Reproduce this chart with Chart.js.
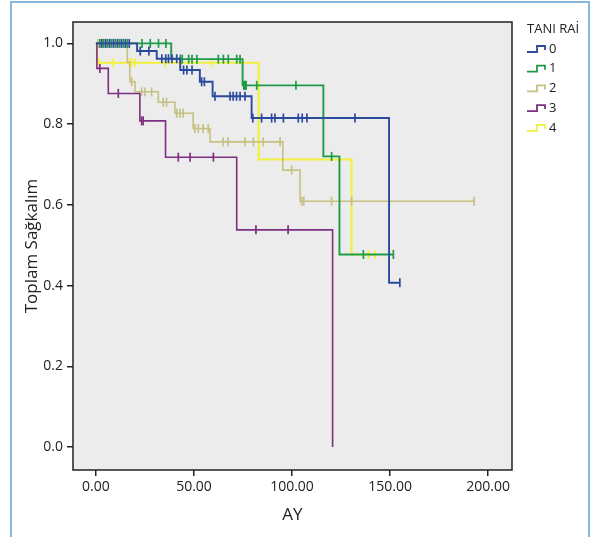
<!DOCTYPE html>
<html>
<head>
<meta charset="utf-8">
<script src="https://cdn.jsdelivr.net/npm/chart.js@4.4.1/dist/chart.umd.min.js"></script>
<style>
html, body { margin:0; padding:0; background:#fff; }
</style>
</head>
<body>
<canvas id="km" width="592" height="537"></canvas>
<script>
// Kaplan-Meier steps: time (AY) where the curve drops, and survival after the drop
const groupNames = ['0', '1', '2', '3', '4'];
const groupColors = ['#2b4a9e', '#1f9a48', '#c6c183', '#7d2f80', '#f2f03a'];

const times0 = [0, 21, 31, 43, 53, 59.5, 79.4, 149.5, 155];
const surv0  = [1.0, 0.981, 0.962, 0.934, 0.905, 0.869, 0.815, 0.407, 0.407];
const times1 = [0, 38.4, 74.8, 116, 124.2, 151.7];
const surv1  = [1.0, 0.961, 0.896, 0.72, 0.477, 0.477];
const times2 = [0, 16, 17.3, 19.9, 31.8, 40.3, 49.6, 58.2, 95.3, 104.1, 192.9];
const surv2  = [1.0, 0.953, 0.905, 0.880, 0.854, 0.827, 0.789, 0.756, 0.686, 0.609, 0.609];
const times3 = [0, 0.5, 6.3, 22.4, 35.5, 71.8, 120.7];
const surv3  = [1.0, 0.938, 0.876, 0.808, 0.718, 0.538, 0.0];
const times4 = [0, 0.5, 83, 130.4, 142.3];
const surv4  = [1.0, 0.952, 0.7125, 0.477, 0.477];

// censored cases
const cens0T = [3, 5, 7, 9, 11, 13, 15, 17, 22.6, 27, 33.6, 35.6, 37, 38.8, 41.2, 44.7, 46.4, 49, 53.9, 55.3,
  60.7, 68.4, 70, 71.7, 73.5, 76, 80, 84.5, 89.6, 91.3, 95.6, 103.2, 105.2, 107.6, 132.1, 155];
const cens0S = [1, 1, 1, 1, 1, 1, 1, 1, 0.981, 0.981, 0.962, 0.962, 0.962, 0.962, 0.962, 0.934, 0.934, 0.934, 0.905, 0.905,
  0.869, 0.869, 0.869, 0.869, 0.869, 0.869, 0.815, 0.815, 0.815, 0.815, 0.815, 0.815, 0.815, 0.815, 0.815, 0.407];
const cens1T = [2, 4, 6, 8, 10, 12, 14, 16, 23.5, 27.7, 31.9, 35.7, 43, 44, 47.3, 49, 51.5, 62.4, 65, 67.5, 71.8, 73.5,
  75.4, 75.8, 76.2, 76.6, 82, 102, 120.2, 136.4, 151.7];
const cens1S = [1, 1, 1, 1, 1, 1, 1, 1, 1, 1, 1, 1, 0.961, 0.961, 0.961, 0.961, 0.961, 0.961, 0.961, 0.961, 0.961, 0.961,
  0.896, 0.896, 0.896, 0.896, 0.896, 0.896, 0.72, 0.477, 0.477];
const cens2T = [1, 18.2, 23.3, 25, 28.4, 34.3, 36, 41.2, 42.9, 44.5, 50.5, 52.2, 54.7, 57.3, 64.9, 67.4, 76, 80.3, 85.3, 93.9,
  99.8, 104.9, 106, 120.2, 130.4, 192.9];
const cens2S = [1, 0.905, 0.880, 0.880, 0.880, 0.854, 0.854, 0.827, 0.827, 0.827, 0.789, 0.789, 0.789, 0.789,
  0.756, 0.756, 0.756, 0.756, 0.756, 0.756, 0.686, 0.609, 0.609, 0.609, 0.609, 0.609];
const cens3T = [2, 11.4, 23.3, 24.1, 42, 48, 59.9, 81.6, 98];
const cens3S = [0.938, 0.876, 0.808, 0.808, 0.718, 0.718, 0.718, 0.538, 0.538];
const cens4T = [1.5, 8.8, 17, 18.2, 19.9, 35.2, 42.9, 59, 139, 142.3];
const cens4S = [0.952, 0.952, 0.952, 0.952, 0.952, 0.952, 0.952, 0.952, 0.477, 0.477];

const xTicks = [0, 50, 100, 150, 200];
const yTicks = [0, 0.2, 0.4, 0.6, 0.8, 1.0];

const allTimes = [times0, times1, times2, times3, times4];
const allSurv = [surv0, surv1, surv2, surv3, surv4];
const allCensT = [cens0T, cens1T, cens2T, cens3T, cens4T];
const allCensS = [cens0S, cens1S, cens2S, cens3S, cens4S];
const drawOrder = [0, 1, 3, 2, 4]; // lower = on top
const lineWidths = [1.9, 1.9, 1.6, 1.6, 2.1];

function pts(ts, ss) {
  return ts.map((t, i) => ({ x: t, y: ss[i] }));
}

const datasets = [];
for (let g = 0; g < 5; g++) {
  datasets.push({
    type: 'line',
    label: groupNames[g],
    data: pts(allTimes[g], allSurv[g]),
    stepped: 'before',
    borderColor: groupColors[g],
    borderWidth: lineWidths[g],
    pointRadius: 0,
    fill: false,
    order: drawOrder[g] * 2 + 1
  });
  datasets.push({
    type: 'scatter',
    label: groupNames[g] + ' censored',
    data: pts(allCensT[g], allCensS[g]),
    showLine: false,
    pointStyle: 'line',
    rotation: 90,
    pointRadius: 4.5,
    borderColor: groupColors[g],
    pointBorderWidth: 1.7,
    order: drawOrder[g] * 2
  });
}

const backdrop = {
  id: 'backdrop',
  beforeDraw(chart) {
    const ctx = chart.ctx;
    const a = chart.chartArea;
    ctx.save();
    ctx.fillStyle = '#ffffff';
    ctx.fillRect(0, 0, chart.width, chart.height);
    ctx.strokeStyle = '#86b6dc';
    ctx.lineWidth = 2;
    ctx.strokeRect(11, 2, 578, 560);
    ctx.fillStyle = '#ececec';
    ctx.fillRect(a.left, a.top, a.right - a.left, a.bottom - a.top);
    ctx.restore();
  },
  afterDatasetsDraw(chart) {
    const ctx = chart.ctx;
    const a = chart.chartArea;
    ctx.save();
    ctx.strokeStyle = '#222';
    ctx.lineWidth = 1.5;
    ctx.strokeRect(a.left, a.top, a.right - a.left, a.bottom - a.top);
    ctx.restore();
  },
  afterDraw(chart) {
    const ctx = chart.ctx;
    ctx.save();
    ctx.fillStyle = '#222';
    ctx.font = '13px "Open Sans"';
    ctx.textBaseline = 'middle';
    ctx.fillText('TANI RAİ', 527, 29);
    for (let g = 0; g < 5; g++) {
      const y = 49 + g * 19.7;
      ctx.strokeStyle = groupColors[g];
      ctx.lineWidth = 1.8;
      ctx.beginPath();
      ctx.moveTo(527, y + 3);
      ctx.lineTo(537, y + 3);
      ctx.lineTo(537, y - 3);
      ctx.lineTo(545, y - 3);
      ctx.lineTo(545, y + 1);
      ctx.stroke();
      ctx.fillStyle = '#222';
      ctx.fillText(groupNames[g], 549, y);
    }
    ctx.restore();
  }
};

new Chart(document.getElementById('km'), {
  data: { datasets: datasets },
  plugins: [backdrop],
  options: {
    responsive: false,
    animation: false,
    events: [],
    layout: { padding: { left: 0, top: 22, right: 80, bottom: 0 } },
    plugins: { legend: { display: false }, tooltip: { enabled: false } },
    scales: {
      x: {
        type: 'linear',
        min: -11.7,
        max: 212.2,
        afterBuildTicks: s => { s.ticks = xTicks.map(v => ({ value: v })); },
        afterFit: s => { s.height = 67; },
        ticks: { callback: v => v.toFixed(2), font: { family: 'Open Sans', size: 14 }, color: '#222', padding: 3, maxRotation: 0 },
        grid: { drawOnChartArea: false, tickLength: 6, color: '#222', lineWidth: 1.5 },
        border: { display: false },
        title: { display: true, text: 'AY', font: { family: 'Open Sans', size: 17 }, color: '#222', padding: { top: 0, bottom: 12 } }
      },
      y: {
        type: 'linear',
        min: -0.057,
        max: 1.053,
        afterBuildTicks: s => { s.ticks = yTicks.map(v => ({ value: v })); },
        afterFit: s => { s.width = 73; },
        ticks: { callback: v => v.toFixed(1), font: { family: 'Open Sans', size: 14 }, color: '#222', padding: 4 },
        grid: { drawOnChartArea: false, tickLength: 6, color: '#222', lineWidth: 1.5 },
        border: { display: false },
        title: { display: true, text: 'Toplam Sağkalım', font: { family: 'Open Sans', size: 17 }, color: '#222', padding: { top: 22, bottom: 0 } }
      }
    }
  }
});
</script>
</body>
</html>
